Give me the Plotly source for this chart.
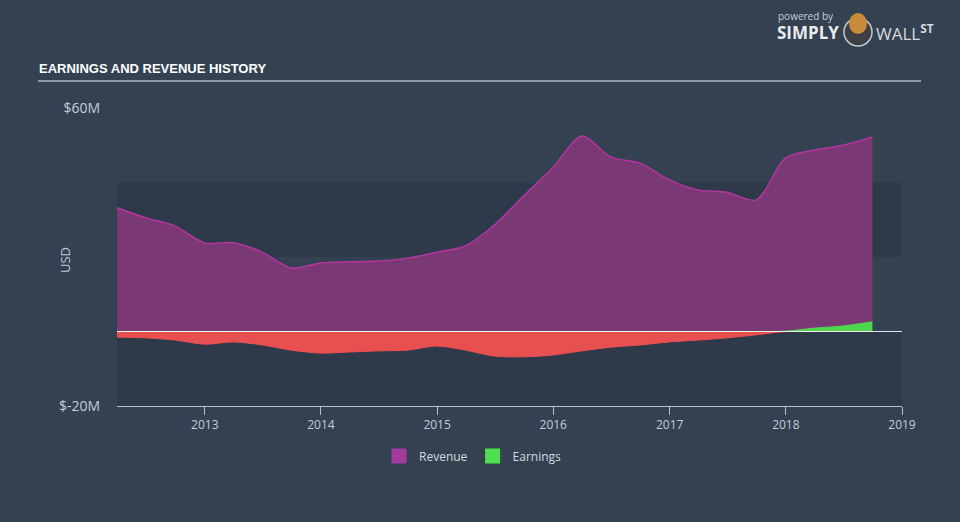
import plotly.graph_objects as go

dates = ["2012-03-31", "2012-06-30", "2012-09-30", "2012-12-31",
         "2013-03-31", "2013-06-30", "2013-09-30", "2013-12-31",
         "2014-03-31", "2014-06-30", "2014-09-30", "2014-12-31",
         "2015-03-31", "2015-06-30", "2015-09-30", "2015-12-31",
         "2016-03-31", "2016-06-30", "2016-09-30", "2016-12-31",
         "2017-03-31", "2017-06-30", "2017-09-30", "2017-12-31",
         "2018-03-31", "2018-06-30", "2018-09-30"]
revenue = [33.2, 30.5, 28.3, 23.8, 23.8, 21.3, 17.0, 18.4, 18.7, 18.9, 19.7, 21.3,
           23.0, 28.6, 36.4, 44.0, 52.5, 46.8, 45.2, 40.7, 38.0, 37.4, 35.3, 46.6,
           48.7, 50.0, 52.2]
earnings = [-1.5, -1.7, -2.3, -3.4, -2.8, -3.6, -5.0, -5.8, -5.5, -5.2, -5.0, -3.9,
            -5.0, -6.6, -6.8, -6.3, -5.2, -4.2, -3.6, -2.8, -2.3, -1.7, -0.9, 0.1,
            0.9, 1.5, 2.6]
year_ticks = ["2013", "2014", "2015", "2016", "2017", "2018", "2019"]
y_ticks = [-20, 60]
y_tick_text = ["$-20M", "$60M"]
bands = [(-20, 0), (20, 40)]

BG = "#344151"
BAND = "#2e3a49"
L, R, T, B = 117, 902, 108, 406


def px(x):
    return (x - L) / (R - L)


def py(y):
    return (B - y) / (B - T)


earn_neg = [min(e, 0) for e in earnings]
earn_pos = [max(e, 0) for e in earnings]

fig = go.Figure()
fig.add_trace(go.Scatter(x=dates, y=revenue, mode="lines", fill="tozeroy",
                         line=dict(color="#b3359f", width=1.5, shape="spline", smoothing=0.8),
                         fillcolor="#7a3874", showlegend=False, hoverinfo="skip"))
fig.add_trace(go.Scatter(x=dates, y=earn_neg, mode="lines", fill="tozeroy",
                         line=dict(color="#ee4f52", width=1, shape="spline", smoothing=0.8),
                         fillcolor="#e84f50", showlegend=False, hoverinfo="skip"))
fig.add_trace(go.Scatter(x=dates, y=earn_pos, mode="lines", fill="tozeroy",
                         line=dict(color="#50d84f", width=1, shape="spline", smoothing=0.8),
                         fillcolor="#4fd64f", showlegend=False, hoverinfo="skip"))
# legend entries
fig.add_trace(go.Scatter(x=[None], y=[None], mode="markers", name="Revenue",
                         marker=dict(symbol="square", size=15, color="#a23b9b")))
fig.add_trace(go.Scatter(x=[None], y=[None], mode="markers", name="Earnings",
                         marker=dict(symbol="square", size=15, color="#4ee04e")))

shapes = []
for y0, y1 in bands:
    shapes.append(dict(type="rect", xref="paper", yref="y", x0=0, x1=1, y0=y0, y1=y1,
                       fillcolor=BAND, line=dict(width=0), layer="below"))
shapes.append(dict(type="line", xref="paper", yref="y", x0=0, x1=1, y0=0, y1=0,
                   line=dict(color="rgba(255,255,255,0.85)", width=1), layer="above"))
shapes.append(dict(type="line", xref="paper", yref="paper", x0=px(38), x1=px(921),
                   y0=py(81), y1=py(81), line=dict(color="#8f98a3", width=2)))
# logo circle
shapes.append(dict(type="circle", xref="paper", yref="paper", x0=px(844), x1=px(872),
                   y0=py(46), y1=py(18), fillcolor="#3d3f44", line=dict(color="#c6c9cc", width=1.5)))
shapes.append(dict(type="circle", xref="paper", yref="paper", x0=px(849), x1=px(867),
                   y0=py(34), y1=py(13), fillcolor="#c98a3a", line=dict(width=0)))

annotations = [
    dict(text="<b>EARNINGS AND REVENUE HISTORY</b>", xref="paper", yref="paper",
         x=px(37), y=py(68), xanchor="left", yanchor="middle", showarrow=False,
         font=dict(family="Liberation Sans", size=13, color="#ffffff")),
    dict(text="USD", xref="paper", yref="paper", x=px(65), y=py(260), textangle=-90,
         xanchor="center", yanchor="middle", showarrow=False,
         font=dict(family="Open Sans", size=13, color="#c5cbd3")),
    dict(text="powered by", xref="paper", yref="paper", x=px(776), y=py(16),
         xanchor="left", yanchor="middle", showarrow=False,
         font=dict(family="Open Sans", size=10, color="#c8ccd2")),
    dict(text="<b>SIMPLY</b>", xref="paper", yref="paper", x=px(775), y=py(33),
         xanchor="left", yanchor="middle", showarrow=False,
         font=dict(family="Open Sans", size=17, color="#e8eaed")),
    dict(text="WALL<sup><b>ST</b></sup>", xref="paper", yref="paper", x=px(874), y=py(33),
         xanchor="left", yanchor="middle", showarrow=False,
         font=dict(family="Open Sans", size=17, color="#d6dadf")),
]

fig.update_layout(
    width=960, height=522,
    margin=dict(l=L, r=960 - R, t=T, b=522 - B),
    paper_bgcolor=BG, plot_bgcolor=BG,
    font=dict(family="Open Sans", size=12, color="#c5cbd3"),
    shapes=shapes, annotations=annotations,
    showlegend=True,
    legend=dict(orientation="h", x=px(473), xanchor="center", y=py(456), yanchor="middle",
                font=dict(family="Open Sans", size=12, color="#d4d8dd"),
                bgcolor="rgba(0,0,0,0)", itemwidth=30),
    xaxis=dict(type="date", range=["2012-03-31", "2019-01-01"],
               tickvals=[f"{y}-01-01" for y in year_ticks], ticktext=year_ticks,
               showgrid=False, zeroline=False, showline=True, linecolor="#b9c1cb",
               linewidth=1, ticks="outside", ticklen=8, tickcolor="#b9c1cb",
               tickfont=dict(size=12, color="#c5cbd3")),
    yaxis=dict(range=[-20, 60], tickvals=y_ticks, ticktext=y_tick_text,
               showgrid=False, zeroline=False, showline=False,
               ticks="outside", ticklen=13, tickcolor="rgba(0,0,0,0)",
               tickfont=dict(size=14, color="#c5cbd3")),
)

fig.write_html("out.html")
